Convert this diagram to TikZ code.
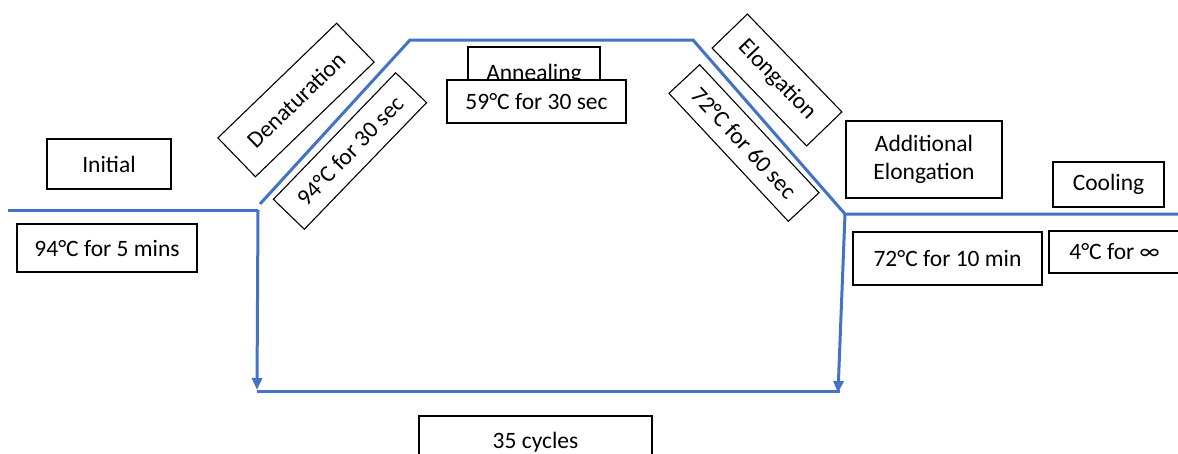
\documentclass[tikz,border=0pt]{standalone}
\usepackage{fontspec}
\setmainfont{Carlito}
\usetikzlibrary{arrows.meta}
\definecolor{flowblue}{HTML}{4472C4}
\begin{document}
\begin{tikzpicture}[x=1pt,y=-1pt,
  box/.style={draw=black, line width=1.1pt, fill=white, inner sep=0pt,
    font=\fontsize{23.5}{28}\selectfont, align=center},
  flow/.style={draw=flowblue, line width=3pt},
  tip/.style={-{Triangle[length=12pt,width=10pt]}}]
\useasboundingbox (0,0) rectangle (1178,453);
% temperature profile
\coordinate (l0) at (8,210);
\coordinate (l1) at (258,210);
\coordinate (d0) at (260,204);
\coordinate (t0) at (410,40);
\coordinate (t1) at (693,40);
\coordinate (r0) at (845,214);
\coordinate (r1) at (1178,214);
\coordinate (lb) at (257,390);
\coordinate (rb) at (838,393);
\coordinate (b0) at (257,391);
\coordinate (b1) at (840,391);
\draw[flow] (l0) -- (l1);
\draw[flow] (d0) -- (t0) -- (t1) -- (r0) -- (r1);
\draw[flow, tip] (l1) -- (lb);
\draw[flow, tip] (r0) -- (rb);
\draw[flow] (b0) -- (b1);
% labels
\node[box, minimum width=124pt, minimum height=50pt] (init) at (109,164) {Initial};
\node[box, minimum width=180pt, minimum height=48pt] (initT) at (107,248) {94°C for 5 mins};
\node[box, rotate=44, minimum width=165pt, minimum height=54pt] (den) at (296,100) {Denaturation};
\node[box, rotate=46, minimum width=176pt, minimum height=43pt] (denT) at (350,151) {94°C for 30 sec};
\node[box, minimum width=132pt, minimum height=54pt] (ann) at (534,74) {Annealing};
\node[box, minimum width=179pt, minimum height=43pt] (annT) at (536.5,101.5) {59°C for 30 sec};
\node[box, rotate=-46, minimum width=136pt, minimum height=49pt] (elo) at (777,80) {Elongation};
\node[box, rotate=-47, minimum width=175pt, minimum height=42pt] (eloT) at (744,143) {72°C for 60 sec};
\node[box, minimum width=156pt, minimum height=77pt] (add) at (924,159.5) {Additional\\Elongation};
\node[box, minimum width=189pt, minimum height=53pt] (addT) at (947.5,258.5) {72°C for 10 min};
\node[box, minimum width=111pt, minimum height=45pt] (cool) at (1108.5,184.5) {Cooling};
\node[box, minimum width=131pt, minimum height=42pt] (coolT) at (1114.5,252) {4°C for ∞};
\node[box, minimum width=233pt, minimum height=52pt] (cyc) at (535.5,442) {35 cycles};
\end{tikzpicture}
\end{document}
